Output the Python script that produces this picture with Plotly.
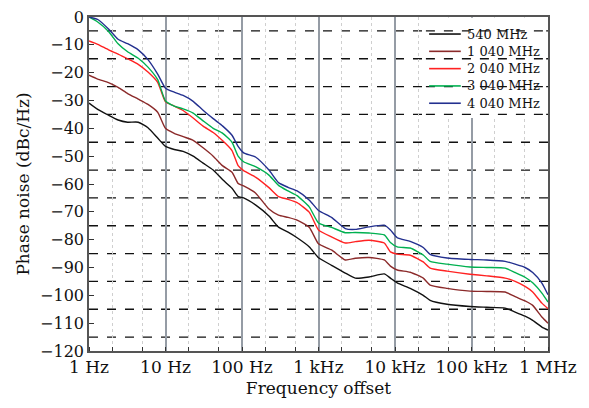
import plotly.graph_objects as go

# Frequency offset (Hz)
freq = [1, 1.3, 1.8, 2.4, 3.2, 4.4, 5.9, 7.9, 10, 13, 17, 23, 31, 42, 56, 74, 89, 105,
        150, 225, 300, 400, 525, 760, 1000, 1480, 2240, 3020, 4570, 7240, 8710, 10700,
        15800, 23400, 28800, 47900, 95500, 158000, 275000, 372000, 501000, 631000,
        832000, 1000000]

series_names = ["540 MHz", "1 040 MHz", "2 040 MHz", "3 040 MHz", "4 040 MHz"]

pn_540 = [-30.9, -33.2, -35.3, -37, -37.8, -37.8, -39.8, -43.5, -46.5, -47.6, -48.3, -50,
          -52.5, -55, -58.5, -61.5, -64.5, -65, -67.5, -71.5, -75.5, -77.3, -79.3, -82.6,
          -86.5, -89.2, -92, -93.8, -93.4, -92.3, -93.8, -95.5, -97.5, -100, -101.8,
          -103.2, -104, -104.3, -104.6, -106, -107.5, -109, -111.4, -112.5]
pn_1040 = [-20.9, -22.3, -23.6, -25.3, -27.5, -29.5, -31.4, -34.2, -40, -41.8, -43, -44.3,
           -47, -50, -53.5, -55.8, -59.8, -60.7, -63.2, -69, -71.2, -72, -73, -75.6,
           -81.5, -83.7, -87.3, -86.7, -86.4, -87.3, -89.5, -90.9, -91.7, -93.8, -96.3,
           -97.5, -98.5, -98.6, -98.8, -100.5, -102, -103.6, -107.8, -110]
pn_2040 = [-8.6, -9.8, -11.8, -13.3, -15, -17, -19.8, -23.5, -30.5, -32, -33.6, -36.3,
           -39.2, -41.5, -44.5, -48, -53.4, -55.2, -57.5, -61.3, -64.5, -65.5, -66.7, -70.2,
           -76.5, -79, -81.2, -80.7, -80.2, -81.2, -84.4, -85.2, -85.6, -88, -90.2,
           -91.3, -92.4, -93, -93.8, -95, -96.8, -98.8, -102.8, -104.8]
pn_3040 = [0, -1.8, -5.2, -9.6, -12.5, -14.8, -18, -22.5, -30.2, -32, -33, -34.5,
           -37.3, -40, -41.8, -45, -50, -52, -53.8, -56.8, -60.5, -62.5, -64.2, -68.3,
           -74, -75.6, -77.5, -77.4, -77.6, -78.3, -81, -82.6, -83, -85.5, -87.8,
           -88.8, -89.8, -90, -90.2, -91.8, -93.5, -95.5, -99.2, -102.4]
pn_4040 = [0, -0.9, -4.3, -8, -9.6, -11.8, -15.3, -20.5, -25.6, -27, -28.2, -30.3,
           -33.5, -36.5, -39.2, -42.5, -46.5, -48.8, -50.3, -55, -59.5, -61.2, -62.5, -65.8,
           -69.5, -72, -76, -76.3, -75.4, -74.8, -76.5, -79.3, -80.6, -82.8, -85.3,
           -86.6, -87.1, -87.3, -87.8, -88.8, -90, -91.8, -95.6, -99.8]

x_tickvals = [1, 10, 100, 1000, 10000, 100000, 1000000]
x_ticktext = ["1 Hz", "10 Hz", "100 Hz", "1 kHz", "10 kHz", "100 kHz", "1 MHz"]
y_tickvals = [0, -10, -20, -30, -40, -50, -60, -70, -80, -90, -100, -110, -120]
dash_levels = [-5, -15, -25, -35, -45, -55, -65, -75, -85, -95, -105, -115]
legend_box_bottom = -36.3

colors = ["#111111", "#8b2a2a", "#ff2222", "#00b050", "#23308f"]
all_series = [pn_540, pn_1040, pn_2040, pn_3040, pn_4040]

FONT = "DejaVu Serif"

fig = go.Figure()
for name, vals, c in zip(series_names, all_series, colors):
    fig.add_trace(go.Scatter(x=freq, y=vals, mode="lines", name=name, showlegend=False,
                             line=dict(color=c, width=1.4, shape="spline", smoothing=0.5)))

dash_style = dict(color="#111111", width=1.3, dash="dash")
shapes = []
for lv in dash_levels:
    shapes.append(dict(type="line", xref="x domain", yref="y", x0=0, x1=1, y0=lv, y1=lv,
                       line=dash_style, layer="below"))
# white legend box (hides vertical grid there)
shapes.append(dict(type="rect", xref="x domain", yref="y", x0=0.734, x1=0.996,
                   y0=legend_box_bottom, y1=-0.25, fillcolor="white",
                   line=dict(width=0), layer="above"))
for lv in dash_levels:
    if lv > legend_box_bottom:
        shapes.append(dict(type="line", xref="x domain", yref="y", x0=0.734, x1=1,
                           y0=lv, y1=lv, line=dash_style, layer="above"))

# legend entries (line sample + label)
annotations = []
leg_top, leg_step = 0.949, 0.0518
for i, (name, c) in enumerate(zip(series_names, colors)):
    yy = leg_top - i * leg_step
    shapes.append(dict(type="line", xref="x domain", yref="y domain", x0=0.741, x1=0.810,
                       y0=yy, y1=yy, line=dict(color=c, width=1.6), layer="above"))
    annotations.append(dict(text=name, xref="x domain", yref="y domain", x=0.819, y=yy,
                            xanchor="left", yanchor="middle", showarrow=False,
                            font=dict(family=FONT, size=13, color="#111111")))
fig.update_layout(shapes=shapes, annotations=annotations)

fig.update_layout(
    width=581, height=400,
    margin=dict(l=81, r=41, t=9, b=57, autoexpand=False),
    paper_bgcolor="white", plot_bgcolor="white",
    font=dict(family=FONT, size=16, color="#111111"),
    showlegend=False,
)
fig.update_xaxes(
    type="log", range=[0, 6], automargin=False,
    tickvals=x_tickvals, ticktext=x_ticktext, ticklabeloverflow="allow",
    showgrid=True, gridcolor="#959ca5", gridwidth=1.5,
    ticks="", showline=True, linecolor="#555555", linewidth=1.5, mirror=True,
    minor=dict(ticks="inside", ticklen=4, tickcolor="#333333", showgrid=True,
               gridcolor="#cfcfcf", griddash="dot", gridwidth=1),
    title=dict(text="Frequency offset", font=dict(family=FONT, size=17), standoff=6),
    tickfont=dict(family=FONT, size=17), zeroline=False,
)
fig.update_yaxes(
    range=[-120, 0], tickvals=y_tickvals, automargin=False, ticklabeloverflow="allow",
    showgrid=False, zeroline=False,
    ticks="inside", ticklen=5, tickcolor="#333333",
    showline=True, linecolor="#555555", linewidth=1.5, mirror=True,
    title=dict(text="Phase noise (dBc/Hz)", font=dict(family=FONT, size=17), standoff=6),
    tickfont=dict(family=FONT, size=16),
)

fig.write_html("out.html")
